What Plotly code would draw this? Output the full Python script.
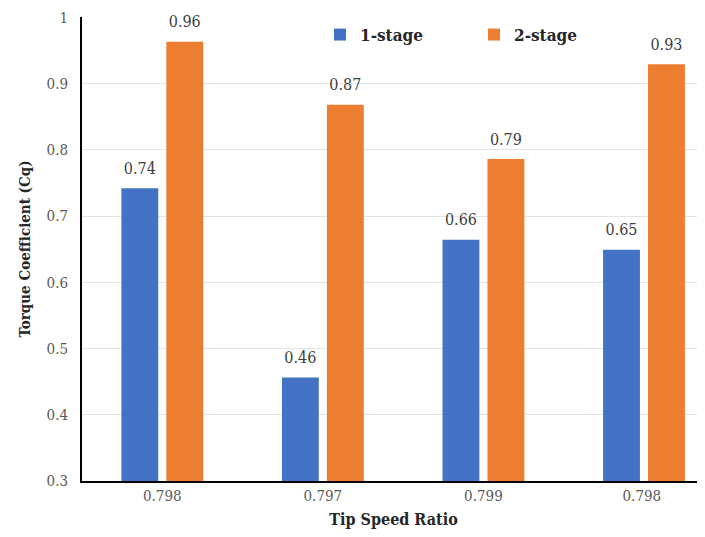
import plotly.graph_objects as go

categories = ["0.798", "0.797", "0.799", "0.798 "]
one_stage = [0.742, 0.456, 0.664, 0.649]
two_stage = [0.963, 0.868, 0.786, 0.929]
y_ticks = [0.3, 0.4, 0.5, 0.6, 0.7, 0.8, 0.9, 1.0]
y_tick_labels = ["0.3", "0.4", "0.5", "0.6", "0.7", "0.8", "0.9", "1"]

FONT = "DejaVu Serif Condensed, DejaVu Serif"
label_font = dict(family=FONT, size=16, color="#404040")

fig = go.Figure()
for name, vals, color in [("1-stage", one_stage, "#4472C4"), ("2-stage", two_stage, "#ED7D31")]:
    fig.add_trace(go.Bar(
        x=categories, y=vals, name=name,
        marker=dict(color=color, line=dict(width=0)),
    ))
for vals in [one_stage, two_stage]:
    fig.add_trace(go.Scatter(
        x=categories, y=vals, mode="markers+text", showlegend=False,
        marker=dict(size=15, opacity=0), hoverinfo="skip",
        text=[f"{v:.2f}" for v in vals], textposition="top center",
        textfont=label_font, cliponaxis=False,
    ))

# page body has an 8px margin, so the figure is offset by 8px
fig.update_layout(
    width=697, height=529,
    margin=dict(l=74, r=0, t=9, b=56, autoexpand=False),
    paper_bgcolor="white", plot_bgcolor="white",
    barmode="group", bargap=0.44, bargroupgap=0.18,
    scattermode="group", scattergap=0.44,
    font=dict(family=FONT, size=15, color="#595959"),
    showlegend=True,
    legend=dict(
        orientation="h", x=0.382, xanchor="left", y=1.0, yanchor="top",
        bgcolor="white", font=dict(family=FONT, size=17, color="#262626", weight="bold"),
        entrywidth=109, entrywidthmode="pixels", itemsizing="constant",
    ),
    xaxis=dict(
        type="category", range=[-0.5, 3.38], automargin=False,
        showline=True, linecolor="black", linewidth=2,
        ticks="", showgrid=False,
        tickfont=dict(family=FONT, size=15, color="#595959"),
        title=dict(text="<b>Tip Speed Ratio</b>", font=dict(family=FONT, size=16, color="#262626"), standoff=10),
    ),
    yaxis=dict(
        range=[0.2999, 1.0005], tickvals=y_ticks, ticktext=y_tick_labels, automargin=False,
        showline=True, linecolor="black", linewidth=2,
        showgrid=True, gridcolor="#E3E3E3", gridwidth=1,
        zeroline=False, ticks="", ticklen=0, ticklabelstandoff=9,
        tickfont=dict(family=FONT, size=15, color="#595959"),
        title=dict(text="<b>Torque Coefficient (Cq)</b>", font=dict(family=FONT, size=15, color="#262626"), standoff=12),
    ),
)

fig.write_html("out.html")
